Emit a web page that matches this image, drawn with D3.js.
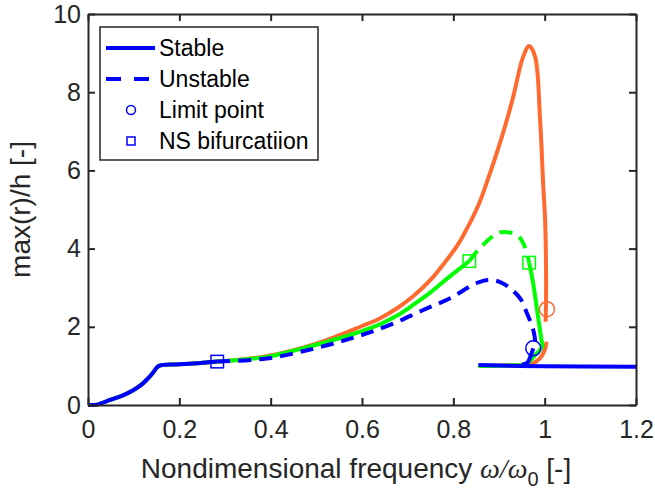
<!DOCTYPE html>
<html>
<head>
<meta charset="utf-8">
<script src="https://cdn.jsdelivr.net/npm/d3@7"></script>
<style>
  body { margin: 0; background: #fff; }
  svg { display: block; }
</style>
</head>
<body>
<div id="chart"></div>
<script>
// ---- Data: [frequency, max(r)/h] ----
// common low-frequency branch (shared by all three curves)
const lowBranch = [[0, 0], [0.02, 0.01], [0.048, 0.13], [0.075, 0.24], [0.099, 0.38], [0.115, 0.5],
    [0.128, 0.64], [0.142, 0.82], [0.155, 1.0], [0.2, 1.04], [0.24, 1.07], [0.283, 1.11]];

// orange curve
const orangeUpper = [[0.283, 1.11], [0.391, 1.25], [0.5, 1.57], [0.6, 2.02], [0.64, 2.22], [0.68, 2.5],
    [0.712, 2.78], [0.75, 3.2], [0.785, 3.7], [0.81, 4.1], [0.836, 4.65], [0.858, 5.2], [0.875, 5.75],
    [0.895, 6.44], [0.915, 7.2], [0.931, 7.88], [0.953, 8.91], [0.966, 9.18], [0.979, 8.91],
    [0.99, 7.29], [0.997, 5.58], [1.001, 4.73], [1.003, 3.5], [1.003, 2.7], [1.002, 2.13]];
const orangeLower = [[1.004, 1.62], [1.0, 1.4], [0.99, 1.2], [0.975, 1.07], [0.955, 1.03], [0.9, 1.01], [0.855, 1.0]];

// green curve
const greenStable1 = [[0.283, 1.11], [0.391, 1.23], [0.464, 1.43], [0.574, 1.79], [0.64, 2.07], [0.676, 2.28],
    [0.712, 2.56], [0.75, 2.88], [0.785, 3.22], [0.835, 3.68]];
const greenUnstable = [[0.835, 3.68], [0.854, 3.96], [0.887, 4.32], [0.904, 4.42], [0.939, 4.35],
    [0.955, 4.09], [0.966, 3.64]];
const greenStable2 = [[0.966, 3.64], [0.975, 3.1], [0.985, 2.3], [0.993, 1.66], [0.995, 1.52],
    [0.988, 1.38], [0.979, 1.28], [0.967, 1.12], [0.955, 1.04], [0.92, 1.01], [0.855, 1.0]];

// blue curve
const blueUnstable = [[0.283, 1.11], [0.391, 1.19], [0.48, 1.4], [0.552, 1.62], [0.61, 1.83], [0.668, 2.08],
    [0.734, 2.43], [0.793, 2.73], [0.851, 3.12], [0.88, 3.2], [0.909, 3.11], [0.946, 2.73],
    [0.961, 2.35], [0.975, 1.92], [0.979, 1.58], [0.975, 1.45]];
const blueStable2 = [[0.975, 1.45], [0.968, 1.22], [0.962, 1.08], [0.95, 1.03]];
const blueLowerBranch = [[0.855, 1.02], [1.0, 0.99], [1.2, 0.98]];

// special points
const limitPoints = [{x: 0.975, y: 1.45, c: "blue"}, {x: 1.005, y: 2.45, c: "orange"}];
const nsPoints = [{x: 0.283, y: 1.11, c: "blue"}, {x: 0.835, y: 3.68, c: "green"}, {x: 0.966, y: 3.64, c: "green"}];

const xTicks = [0, 0.2, 0.4, 0.6, 0.8, 1, 1.2];
const yTicks = [0, 2, 4, 6, 8, 10];
const legendItems = ["Stable", "Unstable", "Limit point", "NS bifurcatiion"];

// ---- Styling ----
const COLORS = {blue: "#0000ff", green: "#00ff00", orange: "#ff6a30"};
const AXIS_COLOR = "#262626";
const FONT = "\"Liberation Sans\", Arial, sans-serif";
const LW = 4;
const DASH = "13,8";

const W = 655, H = 492;
const plot = {left: 88, right: 636, top: 14, bottom: 405};

const svg = d3.select("#chart").append("svg")
    .attr("width", W)
    .attr("height", H);

const x = d3.scaleLinear().domain([0, 1.2]).range([plot.left, plot.right]);
const y = d3.scaleLinear().domain([0, 10]).range([plot.bottom, plot.top]);

const line = d3.line()
    .x(d => x(d[0]))
    .y(d => y(d[1]))
    .curve(d3.curveCatmullRom.alpha(0.5));

function drawLine(data, color, dashed) {
    svg.append("path")
        .datum(data)
        .attr("d", line)
        .attr("fill", "none")
        .attr("stroke", COLORS[color])
        .attr("stroke-width", LW)
        .attr("stroke-linejoin", "round")
        .attr("stroke-dasharray", dashed ? DASH : null);
}

// orange at the bottom, then green, then blue on top
drawLine(lowBranch, "orange");
drawLine(orangeUpper, "orange");
drawLine(orangeLower, "orange");

drawLine(lowBranch, "green");
drawLine(greenStable1, "green");
drawLine(greenUnstable, "green", true);
drawLine(greenStable2, "green");

drawLine(lowBranch, "blue");
drawLine(blueUnstable, "blue", true);
drawLine(blueStable2, "blue");
drawLine(blueLowerBranch, "blue");

// markers
svg.selectAll("circle.limit")
    .data(limitPoints)
    .enter().append("circle")
    .attr("class", "limit")
    .attr("cx", d => x(d.x))
    .attr("cy", d => y(d.y))
    .attr("r", 7.5)
    .attr("fill", "none")
    .attr("stroke", d => COLORS[d.c])
    .attr("stroke-width", 1.5);

const SQ = 12.5;
svg.selectAll("rect.ns")
    .data(nsPoints)
    .enter().append("rect")
    .attr("class", "ns")
    .attr("x", d => x(d.x) - SQ / 2)
    .attr("y", d => y(d.y) - SQ / 2)
    .attr("width", SQ)
    .attr("height", SQ)
    .attr("fill", "none")
    .attr("stroke", d => COLORS[d.c])
    .attr("stroke-width", 1.5);

// ---- Axes (box with inward ticks on all sides) ----
const fmt = d3.format("~g");
function styleAxis(g) {
    g.select(".domain").attr("stroke", AXIS_COLOR).attr("stroke-width", 2);
    g.selectAll(".tick line").attr("stroke", AXIS_COLOR).attr("stroke-width", 2);
    g.selectAll(".tick text").style("font-size", "25px").style("font-family", FONT).attr("fill", AXIS_COLOR);
}

svg.append("g")
    .attr("transform", `translate(0,${plot.bottom})`)
    .call(d3.axisBottom(x).tickValues(xTicks).tickFormat(fmt).tickSize(-7).tickSizeOuter(0).tickPadding(15))
    .call(styleAxis);
svg.append("g")
    .attr("transform", `translate(0,${plot.top})`)
    .call(d3.axisTop(x).tickValues(xTicks).tickFormat("").tickSize(-7).tickSizeOuter(0))
    .call(styleAxis);
svg.append("g")
    .attr("transform", `translate(${plot.left},0)`)
    .call(d3.axisLeft(y).tickValues(yTicks).tickFormat(fmt).tickSize(-7).tickSizeOuter(0).tickPadding(7))
    .call(styleAxis);
svg.append("g")
    .attr("transform", `translate(${plot.right},0)`)
    .call(d3.axisRight(y).tickValues(yTicks).tickFormat("").tickSize(-7).tickSizeOuter(0))
    .call(styleAxis);

// ---- Axis labels ----
const xLabel = svg.append("text")
    .attr("x", (plot.left + plot.right) / 2 - 6)
    .attr("y", 478)
    .attr("text-anchor", "middle")
    .style("font-family", FONT)
    .style("font-size", "28px")
    .attr("fill", AXIS_COLOR);
xLabel.append("tspan").text("Nondimensional frequency ");
xLabel.append("tspan").style("font-family", "\"Liberation Serif\", serif").style("font-style", "italic").text("ω/ω");
xLabel.append("tspan").attr("dy", 8).style("font-size", "20px").text("0");
xLabel.append("tspan").attr("dy", -8).text(" [-]");

svg.append("text")
    .attr("transform", `translate(20,${(plot.top + plot.bottom) / 2}) rotate(-90)`)
    .attr("text-anchor", "middle")
    .attr("dy", "0.35em")
    .style("font-family", FONT)
    .style("font-size", "28px")
    .attr("fill", AXIS_COLOR)
    .text("max(r)/h [-]");

// ---- Legend ----
const legend = svg.append("g").attr("transform", "translate(100,27)");
legend.append("rect")
    .attr("width", 218)
    .attr("height", 133)
    .attr("fill", "#fff")
    .attr("stroke", AXIS_COLOR)
    .attr("stroke-width", 1.5);

const rowY = i => 21 + i * 31;
const item = legend.selectAll("g.item")
    .data(legendItems)
    .enter().append("g")
    .attr("class", "item")
    .attr("transform", (d, i) => `translate(0,${rowY(i)})`);

item.append("text")
    .attr("x", 59)
    .attr("y", 0)
    .attr("dy", "0.36em")
    .style("font-family", FONT)
    .style("font-size", "23px")
    .attr("fill", "#000")
    .text(d => d);

item.filter((d, i) => i < 2).append("line")
    .attr("x1", 6).attr("x2", 55)
    .attr("stroke", COLORS.blue)
    .attr("stroke-width", LW)
    .attr("stroke-dasharray", (d, i) => i === 1 ? "15,13" : null);

item.filter((d, i) => i === 2).append("circle")
    .attr("cx", 31).attr("r", 4.5)
    .attr("fill", "none").attr("stroke", COLORS.blue).attr("stroke-width", 1.5);

item.filter((d, i) => i === 3).append("rect")
    .attr("x", 27).attr("y", -4).attr("width", 8).attr("height", 8)
    .attr("fill", "none").attr("stroke", COLORS.blue).attr("stroke-width", 1.5);
</script>
</body>
</html>
